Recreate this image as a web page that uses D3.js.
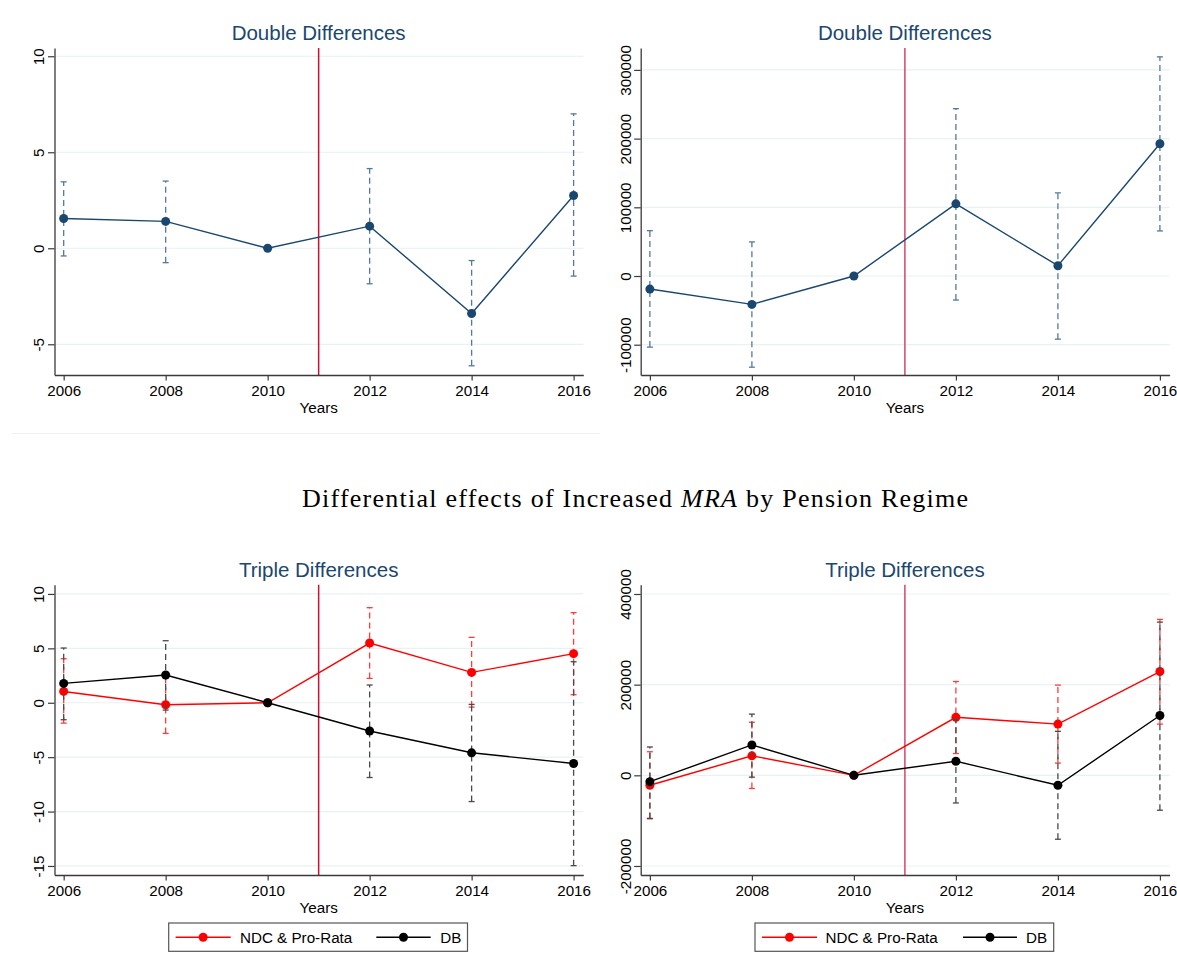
<!DOCTYPE html>
<html>
<head>
<meta charset="utf-8">
<script src="https://cdn.jsdelivr.net/npm/d3@7"></script>
<style>
  body { margin: 0; background: #fff; }
  svg { display: block; }
  text { font-family: "Liberation Sans", Arial, sans-serif; }
</style>
</head>
<body>
<script>
// event-study estimates with 95% CIs

const years = [2006, 2008, 2010, 2012, 2014, 2016];
const treatYear = 2011;

// top left: double differences (small scale)
const ddLeftEst = [1.55, 1.4, 0, 1.15, -3.4, 2.75];
const ddLeftLo  = [-0.4, -0.75, 0, -1.85, -6.12, -1.45];
const ddLeftHi  = [3.46, 3.5, 0, 4.15, -0.64, 7.0];
const ddLeftTicks = [-5, 0, 5, 10];

// top right: double differences (large scale)
const ddRightEst = [-19000, -41300, 0, 105000, 15000, 192500];
const ddRightLo  = [-103500, -132700, 0, -35000, -91900, 65600];
const ddRightHi  = [66000, 49600, 0, 243600, 121000, 319000];
const ddRightTicks = [-100000, 0, 100000, 200000, 300000];

// bottom left: triple differences
const tdLeftNdcEst = [1.04, -0.18, 0, 5.49, 2.79, 4.51];
const tdLeftNdcLo  = [-1.87, -2.82, 0, 2.24, -0.4, 0.74];
const tdLeftNdcHi  = [4.05, 2.45, 0, 8.74, 6.01, 8.28];
const tdLeftDbEst  = [1.78, 2.55, 0, -2.6, -4.6, -5.58];
const tdLeftDbLo   = [-1.56, -0.67, 0, -6.87, -9.08, -14.97];
const tdLeftDbHi   = [5.03, 5.7, 0, 1.63, -0.15, 3.77];
const tdLeftTicks = [-15, -10, -5, 0, 5, 10];

// bottom right: triple differences
const tdRightNdcEst = [-22000, 43000, 0, 128000, 113000, 229000];
const tdRightNdcLo  = [-96000, -29000, 0, 48000, 27000, 113000];
const tdRightNdcHi  = [52000, 117000, 0, 207000, 199000, 344000];
const tdRightDbEst  = [-14000, 67000, 0, 31000, -22000, 132000];
const tdRightDbLo   = [-95000, -4000, 0, -61000, -141000, -77000];
const tdRightDbHi   = [62500, 135000, 0, 123000, 97000, 338000];
const tdRightTicks = [-200000, 0, 200000, 400000];

const seriesNames = ["NDC & Pro-Rata", "DB"];

const navy = "#1a476f";

const W = 1177, H = 964;
const svg = d3.select("body").append("svg").attr("width", W).attr("height", H);

// faint graph-region edge under the first panel
svg.append("line").attr("x1", 12).attr("x2", 600).attr("y1", 433.5).attr("y2", 433.5)
  .attr("stroke", "#f0f0f0").attr("stroke-width", 1);

function panel(opt) {
  const x = d3.scaleLinear().domain([2005.82, 2016.19]).range([opt.left, opt.right]);
  const y = d3.scaleLinear().domain(opt.yDomain).range([opt.bottom, opt.top]);
  const g = svg.append("g");

  // gridlines
  g.selectAll(".grid").data(opt.ticks).join("line")
    .attr("x1", opt.left).attr("x2", opt.right)
    .attr("y1", d => y(d)).attr("y2", d => y(d))
    .attr("stroke", "#e9f1f3").attr("stroke-width", 1.2);

  // treatment line
  g.append("line")
    .attr("x1", x(treatYear)).attr("x2", x(treatYear))
    .attr("y1", opt.top).attr("y2", opt.bottom)
    .attr("stroke", opt.vcolor).attr("stroke-width", 1.5);

  // y axis
  const ya = g.append("g").attr("transform", `translate(${opt.left},0)`)
    .call(d3.axisLeft(y).tickValues(opt.ticks).tickFormat(d => String(d)).tickSize(6.5).tickSizeOuter(0));
  ya.selectAll("text")
    .attr("x", null).attr("dy", null)
    .attr("transform", `translate(${-opt.labOff},0) rotate(-90)`)
    .attr("text-anchor", "middle")
    .attr("font-size", 15.2).attr("fill", "#000")
    .style("font-family", "Liberation Sans, Arial, sans-serif");

  // x axis
  const xa = g.append("g").attr("transform", `translate(0,${opt.bottom})`)
    .call(d3.axisBottom(x).tickValues(years).tickFormat(d3.format("d")).tickSize(5.5).tickSizeOuter(0));
  xa.selectAll("text")
    .attr("y", 20.5).attr("dy", null)
    .attr("font-size", 15.2).attr("fill", "#000")
    .style("font-family", "Liberation Sans, Arial, sans-serif");

  [ya, xa].forEach(a => {
    a.select(".domain").attr("stroke", "#3a3a3a").attr("stroke-width", 1.3);
    a.selectAll(".tick line").attr("stroke", "#3a3a3a").attr("stroke-width", 1.2);
  });

  // titles
  g.append("text").attr("x", x(treatYear)).attr("y", opt.top - 7.7)
    .attr("text-anchor", "middle").attr("font-size", 20.5).attr("fill", navy)
    .text(opt.title);
  g.append("text").attr("x", x(treatYear)).attr("y", opt.bottom + 38)
    .attr("text-anchor", "middle").attr("font-size", 15.2).attr("fill", "#000")
    .text("Years");

  // series
  opt.series.forEach(s => {
    const pts = years.map((yr, i) => ({ yr, est: s.est[i], lo: s.lo[i], hi: s.hi[i] }));
    const ci = pts.filter(p => p.lo !== p.hi);
    const eg = g.append("g").attr("stroke", s.ciColor).attr("stroke-width", 1.3).attr("fill", "none");
    eg.selectAll(".ci").data(ci).join("line")
      .attr("x1", p => x(p.yr)).attr("x2", p => x(p.yr))
      .attr("y1", p => y(p.lo)).attr("y2", p => y(p.hi))
      .attr("stroke-dasharray", "6,4");
    ["lo", "hi"].forEach(k => {
      eg.selectAll(".cap-" + k).data(ci).join("line")
        .attr("x1", p => x(p.yr) - 3).attr("x2", p => x(p.yr) + 3)
        .attr("y1", p => y(p[k])).attr("y2", p => y(p[k]));
    });
    g.append("path").datum(pts)
      .attr("fill", "none").attr("stroke", s.color).attr("stroke-width", 1.4)
      .attr("d", d3.line().x(p => x(p.yr)).y(p => y(p.est)));
    g.selectAll(null).data(pts).join("circle")
      .attr("cx", p => x(p.yr)).attr("cy", p => y(p.est)).attr("r", 4.5)
      .attr("fill", s.color);
  });

  // legend
  if (opt.legend) {
    const L = opt.legend;
    const lg = svg.append("g");
    lg.append("rect").attr("x", L.x).attr("y", L.y).attr("width", L.w).attr("height", 28.3)
      .attr("fill", "#fff").attr("stroke", "#555").attr("stroke-width", 1.2);
    const cy = L.y + 14.2;
    opt.series.forEach((s, i) => {
      const e = L.entries[i];
      lg.append("line").attr("x1", e.x1).attr("x2", e.x2).attr("y1", cy).attr("y2", cy)
        .attr("stroke", s.color).attr("stroke-width", 1.4);
      lg.append("circle").attr("cx", (e.x1 + e.x2) / 2).attr("cy", cy).attr("r", 4.5).attr("fill", s.color);
      lg.append("text").attr("x", e.tx).attr("y", cy + 5.4).attr("font-size", 15.2).attr("fill", "#000")
        .text(seriesNames[i]);
    });
  }
}

const navySeries = (est, lo, hi) => [{ est, lo, hi, color: navy, ciColor: "#55799e" }];
const pair = (a, b) => [
  { est: a[0], lo: a[1], hi: a[2], color: "#ff0000", ciColor: "#ff3c3c" },
  { est: b[0], lo: b[1], hi: b[2], color: "#000000", ciColor: "#4a4a4a" }
];

panel({ left: 54.5, right: 583.3, top: 48, bottom: 375, labOff: 11,
  yDomain: [-6.6, 10.43], ticks: ddLeftTicks, title: "Double Differences", vcolor: "#cc0f35",
  series: navySeries(ddLeftEst, ddLeftLo, ddLeftHi) });

panel({ left: 640.7, right: 1169.6, top: 48, bottom: 375, labOff: 10,
  yDomain: [-144100, 331900], ticks: ddRightTicks, title: "Double Differences", vcolor: "#d4466a",
  series: navySeries(ddRightEst, ddRightLo, ddRightHi) });

panel({ left: 54.5, right: 583.3, top: 584.7, bottom: 875, labOff: 11,
  yDomain: [-15.83, 10.85], ticks: tdLeftTicks, title: "Triple Differences", vcolor: "#cc0f35",
  series: pair([tdLeftNdcEst, tdLeftNdcLo, tdLeftNdcHi], [tdLeftDbEst, tdLeftDbLo, tdLeftDbHi]),
  legend: { x: 168.7, y: 923, w: 298.8, entries: [
    { x1: 175.6, x2: 230.7, tx: 240 }, { x1: 376.3, x2: 430.7, tx: 440.3 } ] } });

panel({ left: 640.7, right: 1169.6, top: 584.7, bottom: 875, labOff: 10,
  yDomain: [-219900, 420500], ticks: tdRightTicks, title: "Triple Differences", vcolor: "#d4466a",
  series: pair([tdRightNdcEst, tdRightNdcLo, tdRightNdcHi], [tdRightDbEst, tdRightDbLo, tdRightDbHi]),
  legend: { x: 755, y: 923, w: 298.7, entries: [
    { x1: 762, x2: 817, tx: 825.5 }, { x1: 963, x2: 1017, tx: 1026 } ] } });

// overall title
const t = svg.append("text").attr("x", 635).attr("y", 507).attr("text-anchor", "middle")
  .attr("font-size", 26).attr("fill", "#000")
  .style("font-family", "Liberation Serif, Times New Roman, serif");
t.append("tspan").text("Differential effects of Increased ");
t.append("tspan").attr("font-style", "italic").text("MRA");
t.append("tspan").text(" by Pension Regime");
t.attr("textLength", 666).attr("lengthAdjust", "spacing");
</script>
</body>
</html>
